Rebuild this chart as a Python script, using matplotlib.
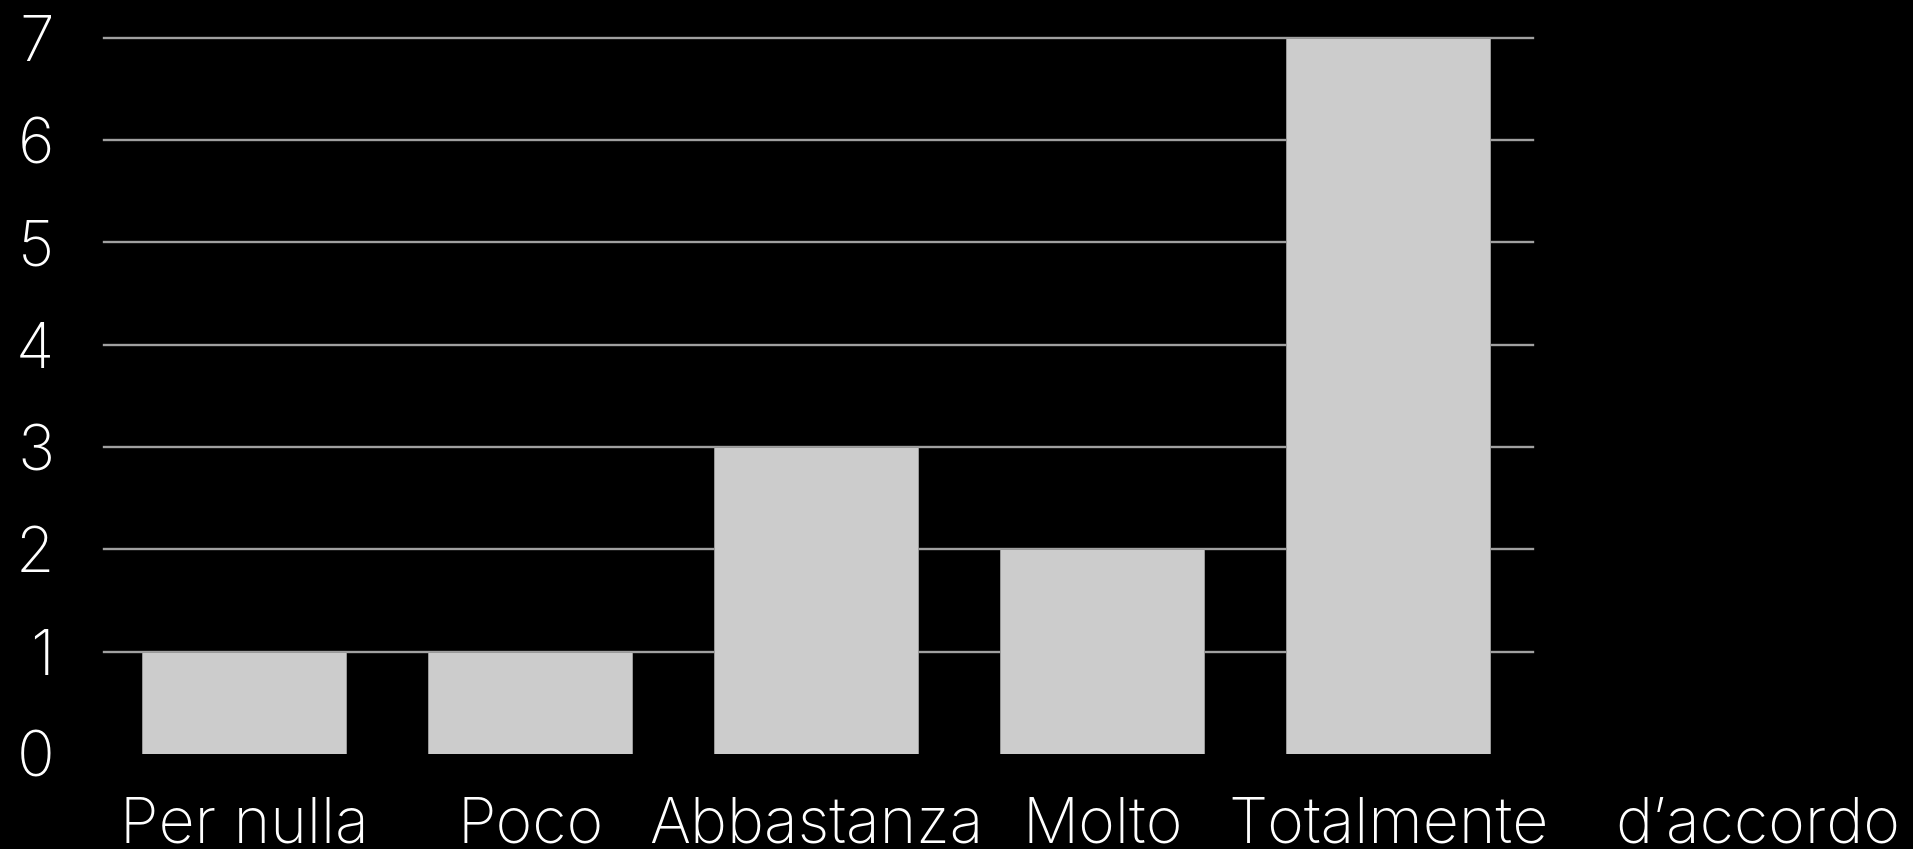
import numpy as np
import matplotlib.pyplot as plt
import matplotlib.transforms as mtransforms

# Dati
categorie = ["Per nulla", "Poco", "Abbastanza", "Molto", "Totalmente"]
valori = [1, 1, 3, 2, 7]
etichetta_extra = "d\u2019accordo"
yticks = [0, 1, 2, 3, 4, 5, 6, 7]

plt.rcParams['font.family'] = ['Inter', 'DejaVu Sans']
plt.rcParams['font.weight'] = 'light'

fig = plt.figure(figsize=(19.13, 8.49), dpi=100, facecolor='black')
ax = fig.add_axes([0.0545, 0.1119, 0.7471, 0.8436], facecolor='black')

x = np.arange(len(categorie))
ax.bar(x, valori, width=0.713, color='#cccccc', edgecolor='#999999',
       linewidth=0.7, zorder=3)

ax.set_xlim(-0.49, 4.507)
ax.set_ylim(0, 7)
ax.set_yticks(yticks)
ax.set_yticklabels([str(v) for v in yticks])
ax.tick_params(axis='y', length=0, pad=36, labelsize=45, labelcolor='white')
ax.set_xticks([])

ax.yaxis.grid(True, color='#a0a0a0', linewidth=1.7, zorder=0)
ax.set_axisbelow(True)
griglie = ax.get_ygridlines()
griglie[0].set_visible(False)
for g in griglie:
    g.set_clip_on(False)

for s in ax.spines.values():
    s.set_visible(False)

# Etichette delle categorie
trans = mtransforms.blended_transform_factory(ax.transData, ax.transAxes)
for xi, nome in zip(x, categorie):
    ax.text(xi, -0.1235, nome, transform=trans, ha='center', va='baseline',
            fontsize=45, color='white', clip_on=False)
ax.text(len(categorie) - 1 + 1.29, -0.1235, etichetta_extra, transform=trans,
        ha='center', va='baseline', fontsize=45, color='white', clip_on=False)

fig.savefig('out.png', dpi=100, facecolor='black')
